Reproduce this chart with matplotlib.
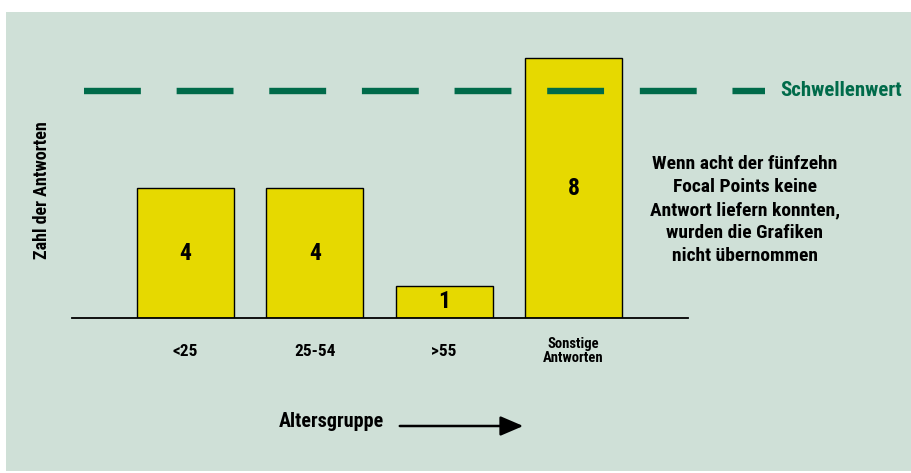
import matplotlib.pyplot as plt
from matplotlib.patches import Rectangle

# Daten
kategorien = ["<25", "25-54", ">55", "Sonstige\nAntworten"]
antworten = [4, 4, 1, 8]
schwellenwert = 7
hinweis = ("Wenn acht der fünfzehn\nFocal Points keine\nAntwort liefern konnten,\n"
           "wurden die Grafiken\nnicht übernommen")

plt.rcParams["font.family"] = ["Roboto Condensed", "DejaVu Sans"]
plt.rcParams["font.weight"] = "bold"

BG = "#cfe0d7"
GELB = "#e6d900"
GRUEN = "#006b4a"

W, H = 911, 473
fig = plt.figure(figsize=(W / 100, H / 100), dpi=100)
fig.patch.set_facecolor("white")
fig.add_artist(Rectangle((6 / W, 2 / H), 1, (471 - 12) / H, transform=fig.transFigure,
                         facecolor=BG, edgecolor="none", zorder=-10))

# Achse: Grundlinie bei y=318 px, von x=72 bis 688 px
unit = 32.5
y0 = 318
ax = fig.add_axes([72 / W, (H - y0) / H, (688 - 72) / W, 9 * unit / H])
ax.set_facecolor("none")
ax.set_xlim(-0.878, 3.886)
ax.set_ylim(0, 9)

x = range(len(kategorien))
ax.bar(x, antworten, width=0.75, color=GELB, edgecolor="black", linewidth=1.0, zorder=2)

for i, v in zip(x, antworten):
    ax.text(i, v / 2, str(v), ha="center", va="center", fontsize=17, zorder=4)

# Schwellenwert-Linie
ax.plot([-0.785, 4.48], [schwellenwert, schwellenwert], color=GRUEN, lw=4.6,
        dashes=(8.9, 5.6), solid_capstyle="butt", dash_capstyle="butt",
        clip_on=False, zorder=3)
ax.text(4.6, schwellenwert, "Schwellenwert", color=GRUEN, fontsize=15,
        ha="left", va="center", clip_on=False)

# Kategorien
for i, lab in zip(x, kategorien):
    fs = 10.5 if "\n" in lab else 12.5
    ax.text(i, -33 / unit, lab, ha="center", va="center", fontsize=fs,
            linespacing=1.05, clip_on=False)

for s in ["top", "right", "left"]:
    ax.spines[s].set_visible(False)
ax.spines["bottom"].set_linewidth(1.3)
ax.set_xticks([])
ax.set_yticks([])

# Achsentitel
fig.text(42 / W, 1 - 190 / H, "Zahl der Antworten", rotation=90, ha="center",
         va="center", fontsize=13)
fig.text(331 / W, 1 - 421 / H, "Altersgruppe", ha="center", va="center", fontsize=14.5)
ax.annotate("", xy=(526 / W, 1 - 426 / H), xytext=(397 / W, 1 - 426 / H),
            xycoords="figure fraction", textcoords="figure fraction",
            arrowprops=dict(arrowstyle="-|>,head_length=1.4,head_width=0.6",
                            color="black", lw=1.8))

# Hinweis
fig.text(745 / W, 1 - 210 / H, hinweis, ha="center", va="center", fontsize=14,
         linespacing=1.35)

fig.savefig("out.png", dpi=100)
